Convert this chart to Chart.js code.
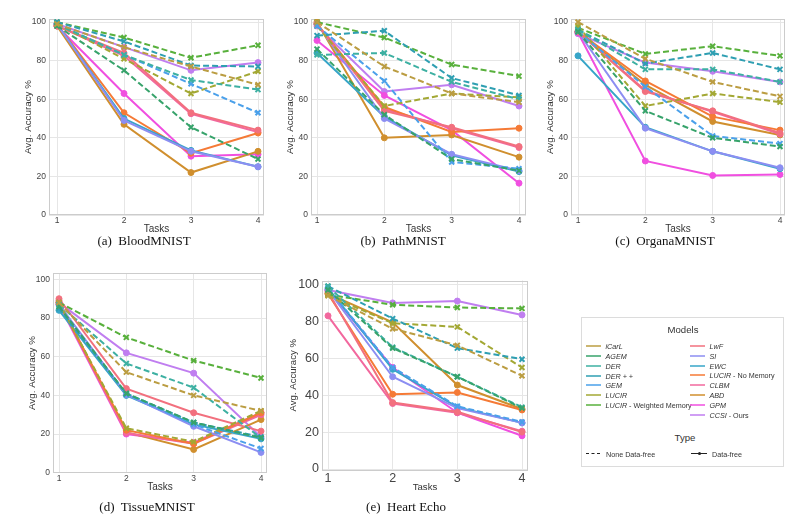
<!DOCTYPE html>
<html><head><meta charset="utf-8">
<script src="https://cdn.jsdelivr.net/npm/chart.js@4"></script>
<style>
body{margin:0;width:802px;height:521px;background:#fff;position:relative;overflow:hidden;font-family:"Liberation Sans",Arial,sans-serif;}
canvas{position:absolute;}
.cap{position:absolute;font-family:"Liberation Serif","Times New Roman",serif;font-size:13px;color:#111;transform:translate(-50%,-50%);white-space:pre;}
#legend{position:absolute;left:581px;top:317px;width:203px;height:150px;border:1px solid #dcdcdc;box-sizing:border-box;background:#fff;}
.lt{position:absolute;font-size:9.6px;color:#333;transform:translate(-50%,-50%);white-space:nowrap;}
.li{position:absolute;font-size:7.2px;color:#333;transform:translateY(-50%);white-space:nowrap;line-height:9px;}
.ls{position:absolute;height:0;border-top:2px solid;opacity:0.75;}
</style></head><body>
<script>
const tasks = [1, 2, 3, 4];
const yTicks = [0, 20, 40, 60, 80, 100];
const models = ['iCarL','AGEM','DER','DER + +','GEM','LUCIR','LUCIR - Weighted Memory','LwF','SI','EWC','LUCIR - No Memory','CLBM','ABD','GPM','CCSI - Ours'];
const dataFree = [false,false,false,false,false,false,false,true,true,true,true,true,true,true,true];
const colors = ['#bb9d42','#37a36b','#3db0a2','#2f9fb2','#4aa0ea','#a3a834','#58b03c','#f2707e','#8c8ef2','#37a5c8','#f57a36','#f2689e','#d08f2e','#f04fe0','#c07ef0'];

// rows follow the order of `models`
const bloodMNIST = [
  [99, 87, 77, 67.5],
  [98, 75, 45.5, 29],
  [99, 83, 70, 65],
  [100, 90, 77.5, 77],
  [99, 83, 68, 53],
  [99, 81, 63, 74.5],
  [100, 92, 81.5, 88],
  [98, 84, 53, 44],
  [99, 49, 33, 25],
  [99, 50, 33.5, 25],
  [99, 53, 32, 42.5],
  [98, 82.5, 52.5, 43],
  [98, 47, 22, 33],
  [98, 63, 30.5, 31.5],
  [99, 87, 75, 79]
];
const pathMNIST = [
  [100, 77, 63, 58.5],
  [86, 52, 29, 23],
  [83, 84, 69, 60],
  [93, 95.5, 71, 62],
  [98, 69.5, 27.5, 24],
  [98, 56.5, 63, 61],
  [100, 92, 78, 72],
  [99, 54, 45.5, 35.5],
  [99, 50, 31.5, 23],
  [84, 51, 31, 22.5],
  [99, 56, 43, 45],
  [99, 55, 45, 35],
  [100, 40, 41.5, 30],
  [90.5, 62, 44, 16.5],
  [98, 64, 67.5, 56.5]
];
const organaMNIST = [
  [100, 81, 69, 61.5],
  [95, 54, 40, 35.5],
  [96, 75.5, 75.5, 69],
  [96, 78.5, 84, 75.5],
  [95, 66.5, 41, 37],
  [98, 56.5, 63, 58.5],
  [97, 83.5, 87.5, 82.5],
  [95, 64, 54, 42.5],
  [95, 45, 33, 24.5],
  [82.5, 45.5, 33, 24],
  [95, 69.5, 51, 44],
  [95, 64.5, 53.5, 42],
  [95, 67.5, 48.5, 41.5],
  [94.5, 28, 20.5, 21],
  [94, 79, 74.5, 69]
];
const tissueMNIST = [
  [88, 52, 40, 32],
  [86, 41, 26, 18],
  [87, 56.5, 44, 18],
  [85, 41, 26, 18.5],
  [86, 40.5, 25, 12.5],
  [88, 23, 16, 32],
  [88, 70, 58, 49],
  [90, 43.5, 31, 21.5],
  [87, 40.5, 24, 10.5],
  [84, 40, 25, 17.5],
  [88, 22, 15, 31],
  [89, 20.5, 15, 30],
  [88, 21, 12, 27.5],
  [87, 20, 15.5, 31],
  [88, 62, 51.5, 18.5]
];
const heartEcho = [
  [94, 76, 67, 50.5],
  [97, 65.5, 50, 33],
  [99, 66, 50, 33.5],
  [99, 81.5, 65.5, 59.5],
  [98, 55, 34, 25.5],
  [94, 79, 77, 55],
  [94.5, 89, 87.5, 87],
  [96, 36, 31, 20],
  [97, 50, 33, 25],
  [98, 54, 33.5, 25],
  [95, 40.5, 41.5, 32],
  [83, 35.5, 30.5, 20.5],
  [95, 79.5, 45.5, 32.5],
  [97, 55, 30.5, 18],
  [97, 90, 91, 83.5]
];

const panels = [
  {data: bloodMNIST,  l:49,  t:19,  r:264, b:215, y100:22,    y0:215,   x1:57,  x4:258, tick:8.5, xt:10, yt:9.8, xH:22, cap:'(a)  BloodMNIST',  cx:144, cy:241},
  {data: pathMNIST,   l:311, t:19,  r:526, b:215, y100:22,    y0:215,   x1:317, x4:519, tick:8.5, xt:10, yt:9.8, xH:22, cap:'(b)  PathMNIST',   cx:403, cy:241},
  {data: organaMNIST, l:571, t:19,  r:785, b:215, y100:22,    y0:215,   x1:578, x4:780, tick:8.5, xt:10, yt:9.8, xH:22, cap:'(c)  OrganaMNIST', cx:665, cy:241},
  {data: tissueMNIST, l:53,  t:273, r:267, b:473, y100:279.3, y0:472.7, x1:59,  x4:261, tick:8.5, xt:10, yt:9.8, xH:22, cap:'(d)  TissueMNIST', cx:147, cy:507},
  {data: heartEcho,   l:322, t:278, r:528, b:470, y100:282,   y0:469,   x1:328, x4:522, tick:12.5, xt:9.6, yt:9.6, xH:25, cap:'(e)  Heart Echo', cx:406, cy:507, yOff:29}
];

const frame = {
  id: 'frame',
  beforeDatasetsDraw(c) {
    const a = c.chartArea, ctx = c.ctx;
    ctx.save();
    ctx.strokeStyle = '#cccccc';
    ctx.lineWidth = 1;
    ctx.strokeRect(Math.round(a.left) + 0.5, Math.round(a.top) + 0.5, Math.round(a.right - a.left) - 1, Math.round(a.bottom - a.top) - 1);
    ctx.restore();
  }
};

panels.forEach(p => {
  const yW = 45, padTop = 8, padRight = 6;
  const cv = document.createElement('canvas');
  const w = yW + (p.r - p.l) + padRight;
  const h = padTop + (p.b - p.t) + p.xH;
  cv.width = w; cv.height = h;
  cv.style.left = (p.l - yW) + 'px';
  cv.style.top = (p.t - padTop) + 'px';
  cv.style.width = w + 'px'; cv.style.height = h + 'px';
  document.body.appendChild(cv);

  const pxu = (p.x4 - p.x1) / 3;
  const xmin = 1 - (p.x1 - p.l) / pxu;
  const xmax = 4 + (p.r - p.x4) / pxu;
  const pyu = (p.y0 - p.y100) / 100;
  const ymin = -(p.b - p.y0) / pyu;
  const ymax = 100 + (p.y100 - p.t) / pyu;
  const yOff = p.yOff || 21;

  const datasets = models.map((m, i) => ({
    label: m,
    data: tasks.map((t, k) => ({x: t, y: p.data[i][k]})),
    borderColor: colors[i],
    backgroundColor: colors[i],
    borderWidth: 2,
    borderDash: dataFree[i] ? [] : [6, 3],
    pointStyle: dataFree[i] ? 'circle' : 'crossRot',
    pointRadius: dataFree[i] ? 3 : 3.5,
    pointBorderWidth: dataFree[i] ? 1 : 2,
    tension: 0
  }));

  new Chart(cv, {
    type: 'line',
    data: {datasets},
    plugins: [frame],
    options: {
      responsive: false,
      animation: false,
      devicePixelRatio: 1,
      layout: {padding: {top: padTop, right: padRight, left: 0, bottom: 0}},
      plugins: {legend: {display: false}, tooltip: {enabled: false}},
      scales: {
        x: {
          type: 'linear', min: xmin, max: xmax,
          afterBuildTicks: s => { s.ticks = tasks.map(v => ({value: v})); },
          afterFit: s => { s.height = p.xH; },
          grid: {color: '#e6e6e6', lineWidth: 1, drawTicks: false},
          border: {display: false},
          ticks: {color: '#444', font: {size: p.tick, family: 'Liberation Sans'}, padding: 1, callback: v => String(v), maxRotation: 0},
          title: {display: true, text: 'Tasks', color: '#333', font: {size: p.xt, family: 'Liberation Sans'}, padding: {top: 0, bottom: 2}}
        },
        y: {
          min: ymin, max: ymax,
          afterBuildTicks: s => { s.ticks = yTicks.map(v => ({value: v})); },
          afterFit: s => { s.width = yW; },
          grid: {color: '#e6e6e6', lineWidth: 1, drawTicks: false},
          border: {display: false},
          ticks: {color: '#444', font: {size: p.tick, family: 'Liberation Sans'}, padding: 3, callback: v => String(v)},
          title: {display: true, text: 'Avg. Accuracy %', color: '#333', font: {size: p.yt, family: 'Liberation Sans'}, padding: {top: (yW - yOff) - p.yt * 0.6, bottom: 0}}
        }
      }
    }
  });

  const cap = document.createElement('div');
  cap.className = 'cap';
  cap.textContent = p.cap;
  cap.style.left = p.cx + 'px';
  cap.style.top = p.cy + 'px';
  document.body.appendChild(cap);
});

// legend
const lg = document.createElement('div');
lg.id = 'legend';
document.body.appendChild(lg);
function add(html, cls, x, y, extra) {
  const d = document.createElement('div');
  d.className = cls;
  d.innerHTML = html;
  d.style.left = (x - 581) + 'px';
  d.style.top = (y - 317) + 'px';
  if (extra) Object.assign(d.style, extra);
  lg.appendChild(d);
  return d;
}
add('Models', 'lt', 682, 328);
add('Type', 'lt', 684, 436);
const leftY = [345, 355, 364.7, 374.5, 384.2, 394, 403.5];
const rightY = [344.5, 354.5, 364.5, 374.4, 384.3, 394.2, 404, 414];
models.forEach((m, i) => {
  const parts = m.split(' - ');
  const html = '<i>' + parts[0] + '</i>' + (parts[1] ? ' - ' + parts[1] : '');
  let lx, tx, y;
  if (i < 7) { lx = 585; tx = 604.5; y = leftY[i]; }
  else { lx = 689; tx = 708.5; y = rightY[i - 7]; }
  add('', 'ls', lx, y - 1, {width: '15px', borderTopColor: colors[i]});
  add(html, 'li', tx, y);
});
add('', 'ls', 585, 452, {width: '14px', borderTop: '1.4px dashed #222', opacity: 1});
add('None Data-free', 'li', 605, 452.7);
add('', 'ls', 690, 452, {width: '16px', borderTop: '1.4px solid #222', opacity: 1});
add('', 'ls', 696.5, 450.5, {width: '3px', height: '3px', borderTop: 'none', background: '#222', borderRadius: '50%', opacity: 1});
add('Data-free', 'li', 711, 452.7);
</script>
</body></html>
